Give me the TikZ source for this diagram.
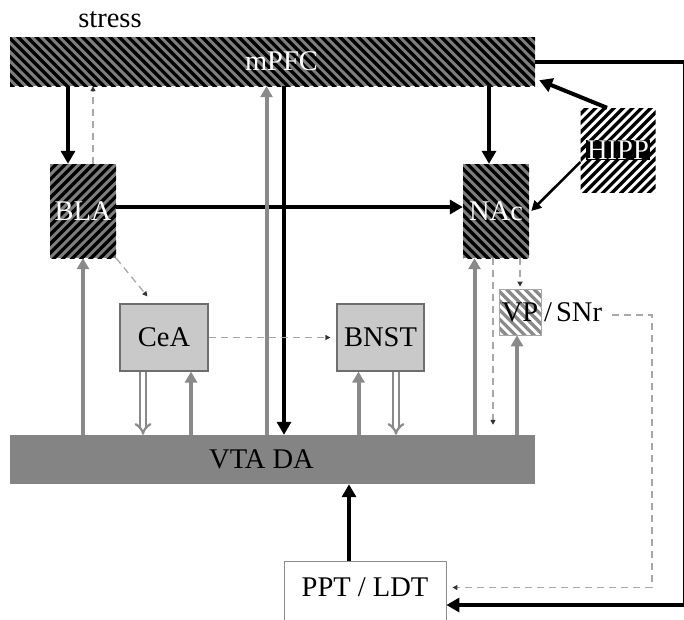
\documentclass[tikz,border=0pt]{standalone}
\usepackage{fontspec}
\setmainfont{Liberation Serif}
\usepackage{xcolor}
\usepackage{tikz}
\usetikzlibrary{arrows.meta}
\definecolor{stripegray}{HTML}{7E7E7E}
\definecolor{vtagray}{HTML}{848484}
\definecolor{boxgray}{HTML}{C9C9C9}
\definecolor{edgegray}{HTML}{6E6E6E}
\definecolor{arrowgray}{HTML}{8A8A8A}
\definecolor{dashgray}{HTML}{A8A8A8}
\setlength{\fboxsep}{1pt}
\tikzset{
  region/.style={inner sep=0pt,font=\fontsize{28.5}{31}\selectfont},
  stripes/.style 2 args={path picture={
    \foreach \k in {-36,...,36}
      \draw[line width=3.3pt,#2] ([xshift=\k*9.2pt]path picture bounding box.center)
        ++(#1:-400pt) -- ++(#1:800pt);}},
  hatched/.style={region,fill=stripegray,text=white,stripes={#1}{black}},
  nucleus/.style={region,fill=boxgray,draw=edgegray,line width=1.2pt},
  heavy path/.style={draw=black,line width=4pt,-{Triangle[length=13pt,width=14pt]}},
  da path/.style={draw=arrowgray,line width=4pt,-{Triangle[length=11pt,width=12pt]}},
  weak path/.style={draw=dashgray,line width=1.3pt,dash pattern=on 7pt off 5pt,
    -{Triangle[length=5pt,width=5pt,color=black!80]}},
  hollow path/.style={draw=arrowgray,line width=2.2pt,double=white,double distance=3.4pt,
    -{Implies[length=8pt,width=17pt]}}
}

\begin{document}
\begin{tikzpicture}[x=1pt,y=-1pt]
  \useasboundingbox (0,0) rectangle (684,619);
  \node[region] (stress) at (110,20) {stress};
  \node[hatched=-45,minimum width=525pt,minimum height=49pt] (mpfc) at (272.5,61.5) {\hspace*{18pt}mPFC};
  \node[hatched=45,minimum width=66pt,minimum height=94pt] (bla) at (83,211) {BLA};
  \node[hatched=-45,minimum width=66pt,minimum height=94pt] (nac) at (496,211) {NAc};
  \node[region,fill=white,text=white,stripes={45}{black},minimum width=75pt,minimum height=84pt]
    (hipp) at (618,150) {\colorbox{black}{HIPP}};
  \node[nucleus,minimum width=88pt,minimum height=67pt] (cea) at (164,337.5) {CeA};
  \node[nucleus,minimum width=87pt,minimum height=67pt] (bnst) at (380.5,337.5) {BNST};
  \node[region,fill=white,draw=dashgray,line width=0.6pt,stripes={-45}{arrowgray},
    minimum width=42pt,minimum height=46pt] (vp) at (520,312) {VP\rlap{\hspace{6pt}/\hspace{4pt}SNr}};
  \node[region,fill=vtagray,minimum width=525pt,minimum height=49pt] (vta) at (272.5,459.5) {VTA DA\hspace*{22pt}};
  \node[region,fill=white,draw=edgegray!80,line width=0.8pt,minimum width=162pt,minimum height=61pt,
    text height=18pt,text depth=8pt] (ppt) at (365,591.5) {PPT / LDT};

  \draw[heavy path] ([xshift=-15pt]bla.north |- mpfc.south) -- ([xshift=-15pt]bla.north);
  \draw[weak path] ([xshift=10pt]bla.north) -- ([xshift=10pt]bla.north |- mpfc.south);
  \draw[heavy path] ([xshift=-7pt]nac.north |- mpfc.south) -- ([xshift=-7pt]nac.north);
  \draw[heavy path] ([xshift=-11pt]hipp.north) -- ([shift={(4pt,6pt)}]mpfc.south east);
  \draw[heavy path,line width=2.5pt,-{Triangle[length=10pt,width=10pt]}]
    ([yshift=-12pt]hipp.west) -- ([xshift=2pt]nac.east);
  \draw[heavy path] ([yshift=4pt]bla.east) -- ([yshift=4pt]nac.west);
  \draw[heavy path] ([xshift=11.5pt]mpfc.south) -- ([xshift=11.5pt]mpfc.south |- vta.north);
  \draw[heavy path] ([xshift=-16pt]ppt.north) -- ([xshift=-16pt]ppt.north |- vta.south);
  \draw[heavy path] (mpfc.east) -| (685,605) -- ([yshift=-13.5pt]ppt.east);

  \foreach \dest/\dx in {mpfc/-6,bla/0,cea/27,bnst/-22,nac/-21.5,vp/-3}
    \draw[da path] ([xshift=\dx pt]\dest.south |- vta.north) -- ([xshift=\dx pt]\dest.south);
  \foreach \src/\dx in {cea/-21,bnst/15.5}
    \draw[hollow path] ([xshift=\dx pt]\src.south) -- ([xshift=\dx pt]\src.south |- vta.north);

  \draw[weak path] (bla.south east) -- ([shift={(28pt,7pt)}]cea.north west);
  \draw[weak path,shorten >=6pt] (cea.east) -- (bnst.west);
  \draw[weak path,shorten >=10pt] ([xshift=-3pt]nac.south) -- ([xshift=-3pt]nac.south |- vta.north);
  \draw[weak path,shorten >=2pt] (vp.north |- nac.south) -- (vp.north);
  \draw[weak path] ([shift={(71pt,-3pt)}]vp.east) -| (652,587.5) -- ([shift={(6pt,4pt)}]ppt.east);
\end{tikzpicture}
\end{document}
